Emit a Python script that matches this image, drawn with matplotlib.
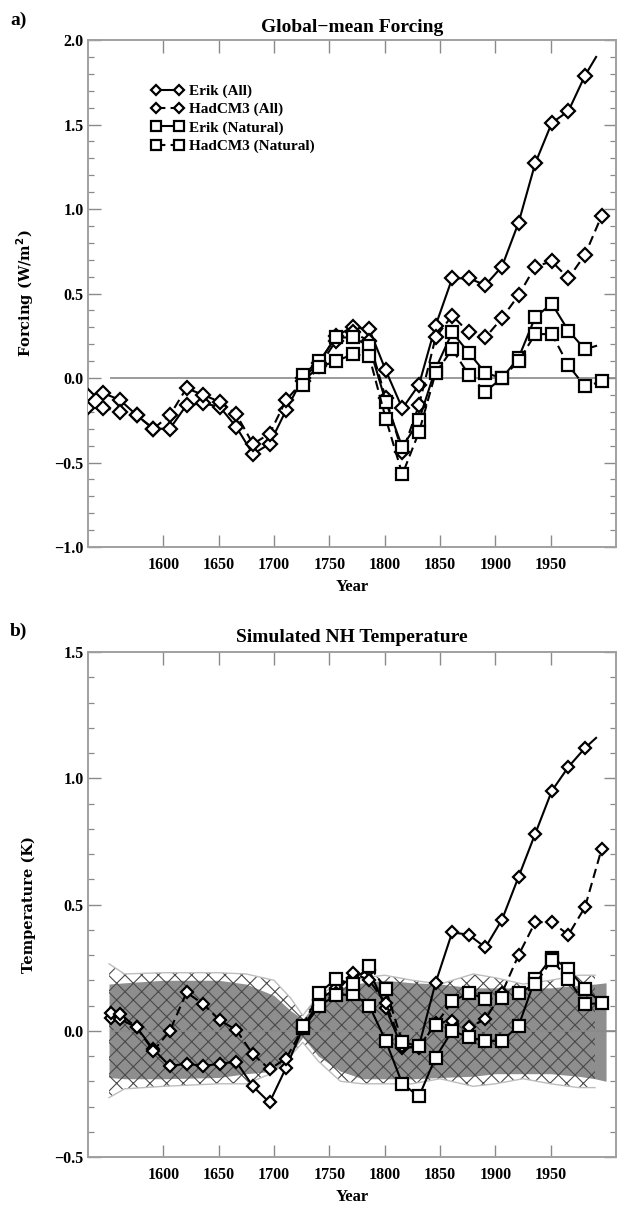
import numpy as np
import matplotlib.pyplot as plt
from matplotlib.ticker import MultipleLocator, NullLocator

plt.rcParams['font.family'] = ['Liberation Serif', 'DejaVu Serif']
plt.rcParams['font.weight'] = 'bold'
plt.rcParams['axes.labelweight'] = 'bold'
plt.rcParams['hatch.linewidth'] = 0.8

nan = np.nan

# ---- panel a: forcing (markers every 15 yr) ----
top_years = [1531, 1546, 1561, 1576, 1591, 1606, 1621, 1636, 1651, 1666, 1681,
             1696, 1711, 1726, 1741, 1756, 1771, 1786, 1801, 1816, 1831, 1846,
             1861, 1876, 1891, 1906, 1921, 1936, 1951, 1966, 1981, 1996]
erik_all_f = [-0.10, -0.09, -0.13, -0.22, -0.30, -0.30, -0.16, -0.15, -0.17, -0.29, -0.45,
              -0.39, -0.19, 0.00, 0.09, 0.25, 0.30, 0.29, 0.045, -0.18, -0.04, 0.31,
              0.59, 0.59, 0.55, 0.66, 0.92, 1.27, 1.51, 1.58, 1.79]
hadcm3_all_f = [-0.18, -0.175, -0.20, -0.22, -0.30, -0.22, -0.06, -0.10, -0.14, -0.215, -0.39,
                -0.33, -0.13, -0.02, 0.07, 0.22, 0.27, 0.22, -0.12, -0.44, -0.16, 0.24,
                0.37, 0.27, 0.24, 0.355, 0.49, 0.66, 0.69, 0.59, 0.73, 0.96]
erik_nat_f = [nan] * 13 + [0.02, 0.10, 0.24, 0.24, 0.19, -0.14, -0.41, -0.25, 0.055,
                           0.27, 0.15, 0.03, 0.00, 0.12, 0.36, 0.44, 0.28, 0.17]
hadcm3_nat_f = [nan] * 13 + [-0.04, 0.065, 0.10, 0.14, 0.13, -0.24, -0.57, -0.32, 0.03,
                             0.17, 0.02, -0.08, 0.00, 0.10, 0.26, 0.26, 0.075, -0.05, -0.02]
erik_end_year = 1991
erik_all_f_end = 1.90
erik_nat_f_end = 0.19

# ---- panel b: NH temperature ----
bot_years = [1553, 1561, 1576, 1591, 1606, 1621, 1636, 1651, 1666, 1681, 1696,
             1711, 1726, 1741, 1756, 1771, 1786, 1801, 1816, 1831, 1846, 1861,
             1876, 1891, 1906, 1921, 1936, 1951, 1966, 1981, 1996]
erik_all_t = [0.05, 0.046, 0.013, -0.073, -0.14, -0.13, -0.14, -0.13, -0.123, -0.22, -0.284,
              -0.146, 0.01, 0.12, 0.17, 0.21, 0.24, 0.09, -0.07, -0.06, 0.19, 0.39,
              0.38, 0.33, 0.44, 0.61, 0.78, 0.95, 1.045, 1.12]
hadcm3_all_t = [0.07, 0.066, 0.013, -0.08, 0.00, 0.152, 0.106, 0.042, 0.003, -0.093, -0.152,
                -0.11, 0.01, 0.10, 0.15, 0.23, 0.20, 0.11, -0.06, -0.07, 0.03, 0.04,
                0.013, 0.046, 0.15, 0.30, 0.43, 0.43, 0.38, 0.49, 0.72]
erik_nat_t = [nan] * 12 + [0.01, 0.10, 0.14, 0.145, 0.10, -0.04, -0.21, -0.26, -0.106, 0.00,
                           -0.026, -0.04, -0.04, 0.02, 0.205, 0.29, 0.245, 0.165]
hadcm3_nat_t = [nan] * 12 + [0.02, 0.15, 0.205, 0.185, 0.258, 0.165, -0.046, -0.06, 0.024, 0.116,
                             0.15, 0.126, 0.13, 0.15, 0.185, 0.28, 0.205, 0.105, 0.11]
erik_all_t_end = 1.16
erik_nat_t_end = 0.13

# control-run variability bands
band_years = [1551, 1565, 1600, 1650, 1675, 1700, 1715, 1726, 1740, 1760, 1780,
              1800, 1825, 1850, 1880, 1900, 1925, 1950, 1975, 1990, 2000]
gray_hi = [0.185, 0.19, 0.20, 0.20, 0.185, 0.14, 0.08, 0.046, 0.12, 0.17, 0.19,
           0.20, 0.19, 0.185, 0.17, 0.17, 0.17, 0.17, 0.18, 0.185, 0.19]
gray_lo = [-0.185, -0.19, -0.19, -0.185, -0.17, -0.16, -0.09, -0.026, -0.10, -0.16, -0.19,
           -0.19, -0.19, -0.185, -0.18, -0.17, -0.17, -0.17, -0.18, -0.19, -0.20]
hatch_hi = [0.265, 0.225, 0.23, 0.23, 0.225, 0.20, 0.13, 0.06, 0.14, 0.19, 0.21,
            0.22, 0.20, 0.185, 0.225, 0.21, 0.185, 0.20, 0.22, 0.22]
hatch_lo = [-0.265, -0.23, -0.22, -0.21, -0.21, -0.165, -0.10, -0.046, -0.12, -0.20, -0.21,
            -0.21, -0.21, -0.19, -0.22, -0.21, -0.19, -0.21, -0.225, -0.225]

labels = ['Erik (All)', 'HadCM3 (All)', 'Erik (Natural)', 'HadCM3 (Natural)']
dash = (0, (4.5, 2.5))


def series(ax, years, vals, end, marker, ms, ls, label):
    x = list(years[:len(vals)])
    y = list(vals)
    mk = list(range(len(x)))
    if end is not None:
        x.append(erik_end_year)
        y.append(end)
    ax.plot(x, y, color='k', lw=1.5, ls=ls, marker=marker, ms=ms, mfc='white',
            mec='k', mew=1.6, markevery=mk, label=label, zorder=5)


def style(ax, ylo, yhi):
    ax.set_xlim(1532, 2009)
    ax.set_ylim(ylo, yhi)
    ax.xaxis.set_minor_locator(NullLocator())
    ax.yaxis.set_major_locator(MultipleLocator(0.5))
    ax.yaxis.set_minor_locator(MultipleLocator(0.1))
    ax.set_xticks([1600, 1650, 1700, 1750, 1800, 1850, 1900, 1950])
    ax.yaxis.set_major_formatter(plt.FuncFormatter(lambda v, p: f'{v:.1f}'.replace('-', '\u2212')))
    ax.tick_params(which='both', direction='in', top=True, right=True,
                   color='#8a8a8a', labelsize=11.5)
    ax.tick_params(which='major', length=9, width=1)
    ax.tick_params(which='minor', length=4.5, width=0.9)
    ax.tick_params(axis='x', pad=7)
    ax.tick_params(axis='y', pad=3)
    for s in ax.spines.values():
        s.set_color('#a0a0a0')
        s.set_linewidth(1.4)
    ax.hlines(0, 1552, 2009, color='#8a8a8a', lw=1.2, zorder=3)
    ax.set_xlabel('Year', fontsize=12, fontweight='bold')
    ax.xaxis.set_label_coords(0.5, -0.079)
    ax.xaxis.label.set_va('center')


fig = plt.figure(figsize=(6.17, 12.07), dpi=100)
ax1 = fig.add_axes([0.1426, 0.5468, 0.8558, 0.4200])
ax2 = fig.add_axes([0.1426, 0.0414, 0.8558, 0.4184])

# panel a
style(ax1, -1.0, 2.0)
series(ax1, top_years, erik_all_f, erik_all_f_end, 'D', 7, '-', labels[0])
series(ax1, top_years, hadcm3_all_f, None, 'D', 7, dash, labels[1])
series(ax1, top_years, erik_nat_f, erik_nat_f_end, 's', 8.5, '-', labels[2])
series(ax1, top_years, hadcm3_nat_f, None, 's', 8.5, dash, labels[3])
ax1.set_ylabel('Forcing (W/m$^\\mathbf{2}$)', fontsize=10.5, family='DejaVu Serif',
               fontweight='bold')
ax1.yaxis.set_label_coords(-0.0985, 0.5)
ax1.legend(loc='upper left', bbox_to_anchor=(0.121, 0.913), frameon=False,
           fontsize=11, handlelength=2.1, handletextpad=0.3, labelspacing=0.3,
           borderpad=0, borderaxespad=0, numpoints=2, markerscale=0.8)

# panel b
style(ax2, -0.5, 1.5)
ax2.fill_between(band_years, gray_lo, gray_hi, color='#8e8e8e', lw=0, zorder=1)
hx = band_years[:len(hatch_hi)]
ax2.fill_between(hx, hatch_lo, hatch_hi, facecolor='none', edgecolor='#4a4a4a',
                 hatch='xx', lw=0, zorder=2)
ax2.plot(hx, hatch_hi, color='#bdbdbd', lw=1.0, zorder=2)
ax2.plot(hx, hatch_lo, color='#bdbdbd', lw=1.0, zorder=2)
series(ax2, bot_years, erik_all_t, erik_all_t_end, 'D', 6.5, '-', labels[0])
series(ax2, bot_years, hadcm3_all_t, None, 'D', 6.5, dash, labels[1])
series(ax2, bot_years, erik_nat_t, erik_nat_t_end, 's', 8.5, '-', labels[2])
series(ax2, bot_years, hadcm3_nat_t, None, 's', 8.5, dash, labels[3])
ax2.set_ylabel('Temperature (K)', fontsize=10.5, family='DejaVu Serif', fontweight='bold')
ax2.yaxis.set_label_coords(-0.0985, 0.5)

fig.text(10 / 617, 1 - 20 / 1207, 'a)', fontsize=14, ha='left', va='center')
fig.text(10 / 617, 1 - 631 / 1207, 'b)', fontsize=14, ha='left', va='center')
fig.text(352 / 617, 1 - 27 / 1207, 'Global\u2212mean Forcing', fontsize=14, ha='center', va='center')
fig.text(352 / 617, 1 - 637 / 1207, 'Simulated NH Temperature', fontsize=14, ha='center', va='center')

fig.savefig('out.png', dpi=100)
plt.close()
